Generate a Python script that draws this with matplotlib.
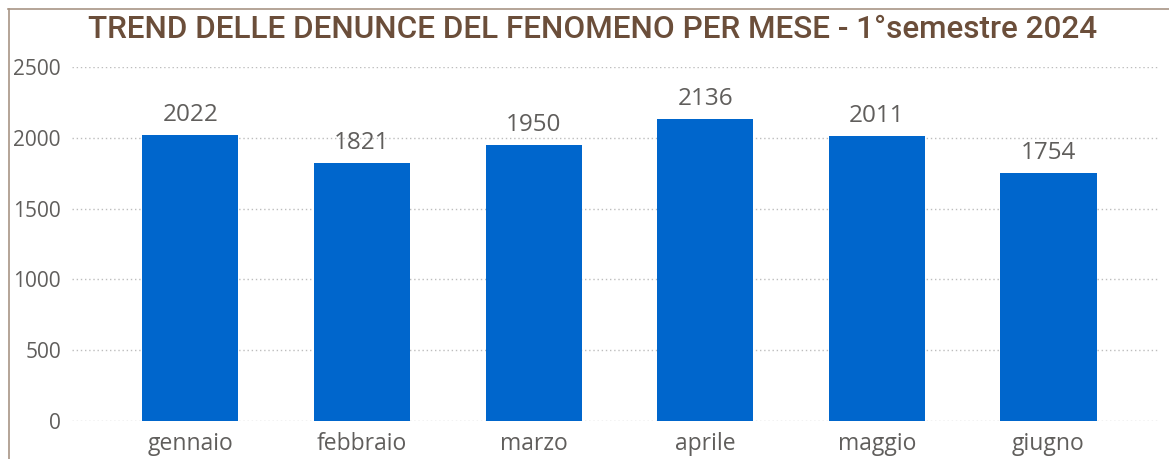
import matplotlib.pyplot as plt
from matplotlib.lines import Line2D

# data
mesi = ['gennaio', 'febbraio', 'marzo', 'aprile', 'maggio', 'giugno']
denunce = [2022, 1821, 1950, 2136, 2011, 1754]
yticks = [0, 500, 1000, 1500, 2000, 2500]

W, H = 1169, 459
fig = plt.figure(figsize=(W / 100, H / 100), dpi=100)
ax = fig.add_axes([72 / W, (H - 421) / H, (1160 - 72) / W, (421 - 67) / H])

gray = '#605E5C'
x = range(len(mesi))
bars = ax.bar(x, denunce, width=0.56, color='#0066CC', zorder=3)
for b, v in zip(bars, denunce):
    ax.text(b.get_x() + b.get_width() / 2, v + 55, str(v), ha='center', va='bottom',
            fontsize=17.5, color=gray, family='Open Sans')

ax.set_ylim(0, 2500)
ax.set_xlim(-0.69, 5.65)
ax.set_yticks(yticks)
ax.set_yticklabels([str(t) for t in yticks], fontsize=15, color=gray, family='Open Sans')
ax.set_xticks(list(x))
ax.set_xticklabels(mesi, fontsize=16.5, color=gray, family='Open Sans')
ax.tick_params(length=0, pad=8)
ax.tick_params(axis='x', pad=8)
ax.grid(axis='y', linestyle=(0, (1, 2)), color='#BDBDBD', linewidth=1, zorder=0)
for s in ax.spines.values():
    s.set_visible(False)

fig.text(593 / W, 1 - 29 / H, 'TREND DELLE DENUNCE DEL FENOMENO PER MESE - 1°semestre 2024',
         ha='center', va='center', fontsize=22.7, color='#6B4E3A', family='Roboto',
         weight='medium')

# frame lines
fig.add_artist(Line2D([8 / W, 1], [1 - 8.5 / H, 1 - 8.5 / H], color='#A89585', lw=1.2))
fig.add_artist(Line2D([8.5 / W, 8.5 / W], [0, 1 - 8.5 / H], color='#A89585', lw=1.2))

fig.savefig('out.png', dpi=100)
